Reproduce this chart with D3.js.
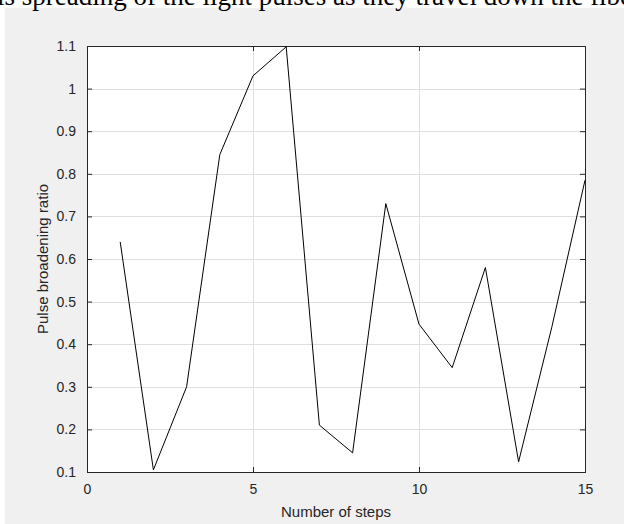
<!DOCTYPE html>
<html>
<head>
<meta charset="utf-8">
<script src="https://cdn.jsdelivr.net/npm/d3@7"></script>
<style>
  body { margin: 0; background: #fff; }
  svg text { font-family: "Liberation Sans", Arial, sans-serif; }
</style>
</head>
<body>
<div id="chart"></div>
<script>
// Data
var steps = [1, 2, 3, 4, 5, 6, 7, 8, 9, 10, 11, 12, 13, 14, 15];
var ratios = [0.64, 0.105, 0.30, 0.845, 1.03, 1.098, 0.21, 0.145, 0.73, 0.447, 0.345, 0.58, 0.124, 0.44, 0.785];
var xTicks = [0, 5, 10, 15];
var yTicks = [0.1, 0.2, 0.3, 0.4, 0.5, 0.6, 0.7, 0.8, 0.9, 1, 1.1];

var W = 624, H = 524;
var margin = { top: 46, right: 39, bottom: 52, left: 87 },
  width = W - margin.left - margin.right,
  height = H - margin.top - margin.bottom;

var svg = d3.select("#chart")
  .append("svg")
  .attr("width", W)
  .attr("height", H);

// figure background (grey MATLAB window)
svg.append("rect")
  .attr("x", 5)
  .attr("y", 8)
  .attr("width", W - 5)
  .attr("height", H - 8)
  .attr("fill", "#f0f0f0");

// cropped document text above the figure
svg.append("text")
  .attr("x", -3)
  .attr("y", 5)
  .style("font-family", "'Liberation Serif', 'Times New Roman', serif")
  .style("font-size", "27px")
  .attr("fill", "#000")
  .text("is spreading of the light pulses as they travel down the fiber");

var g = svg.append("g")
  .attr("transform", "translate(" + margin.left + "," + margin.top + ")");

var x = d3.scaleLinear().domain([0, 15]).range([0, width]);
var y = d3.scaleLinear().domain([0.1, 1.1]).range([height, 0]);

g.append("rect")
  .attr("width", width)
  .attr("height", height)
  .attr("fill", "#fff");

// grid
g.append("g")
  .selectAll("line")
  .data(yTicks)
  .enter().append("line")
  .attr("x1", 0).attr("x2", width)
  .attr("y1", function(d) { return Math.round(y(d)) + 0.5; })
  .attr("y2", function(d) { return Math.round(y(d)) + 0.5; })
  .attr("stroke", "#dfdfdf");

g.append("g")
  .selectAll("line")
  .data(xTicks)
  .enter().append("line")
  .attr("y1", 0).attr("y2", height)
  .attr("x1", function(d) { return Math.round(x(d)) + 0.5; })
  .attr("x2", function(d) { return Math.round(x(d)) + 0.5; })
  .attr("stroke", "#dfdfdf");

// axes (ticks inward, box on)
function styleAxis(sel) {
  sel.select(".domain").remove();
  sel.selectAll(".tick line").attr("stroke", "#262626");
  sel.selectAll(".tick text")
    .attr("fill", "#262626")
    .style("font-size", "14px");
}

g.append("g")
  .attr("transform", "translate(0," + height + ")")
  .call(d3.axisBottom(x).tickValues(xTicks).tickSizeInner(-5).tickPadding(12)
    .tickFormat(d3.format("d")))
  .call(styleAxis);

g.append("g")
  .call(d3.axisTop(x).tickValues(xTicks).tickSizeInner(-5).tickFormat(""))
  .call(styleAxis);

g.append("g")
  .call(d3.axisLeft(y).tickValues(yTicks).tickSizeInner(-5).tickPadding(11)
    .tickFormat(function(d) { return d3.format("")(+d.toFixed(1)); }))
  .call(styleAxis);

g.append("g")
  .attr("transform", "translate(" + width + ",0)")
  .call(d3.axisRight(y).tickValues(yTicks).tickSizeInner(-5).tickFormat(""))
  .call(styleAxis);

g.append("rect")
  .attr("x", 0.5).attr("y", 0.5)
  .attr("width", width).attr("height", height)
  .attr("fill", "none")
  .attr("stroke", "#262626")
  .attr("stroke-width", 1);

// the data line
var line = d3.line()
  .x(function(d, i) { return x(steps[i]); })
  .y(function(d) { return y(d); });

g.append("path")
  .datum(ratios)
  .attr("d", line)
  .attr("fill", "none")
  .attr("stroke", "#000")
  .attr("stroke-width", 1);

// axis labels
g.append("text")
  .attr("x", width / 2)
  .attr("y", height + 45)
  .attr("text-anchor", "middle")
  .style("font-size", "15px")
  .attr("fill", "#262626")
  .text("Number of steps");

g.append("text")
  .attr("transform", "translate(-39," + (height / 2) + ") rotate(-90)")
  .attr("text-anchor", "middle")
  .style("font-size", "15px")
  .attr("fill", "#262626")
  .text("Pulse broadening ratio");
</script>
</body>
</html>
